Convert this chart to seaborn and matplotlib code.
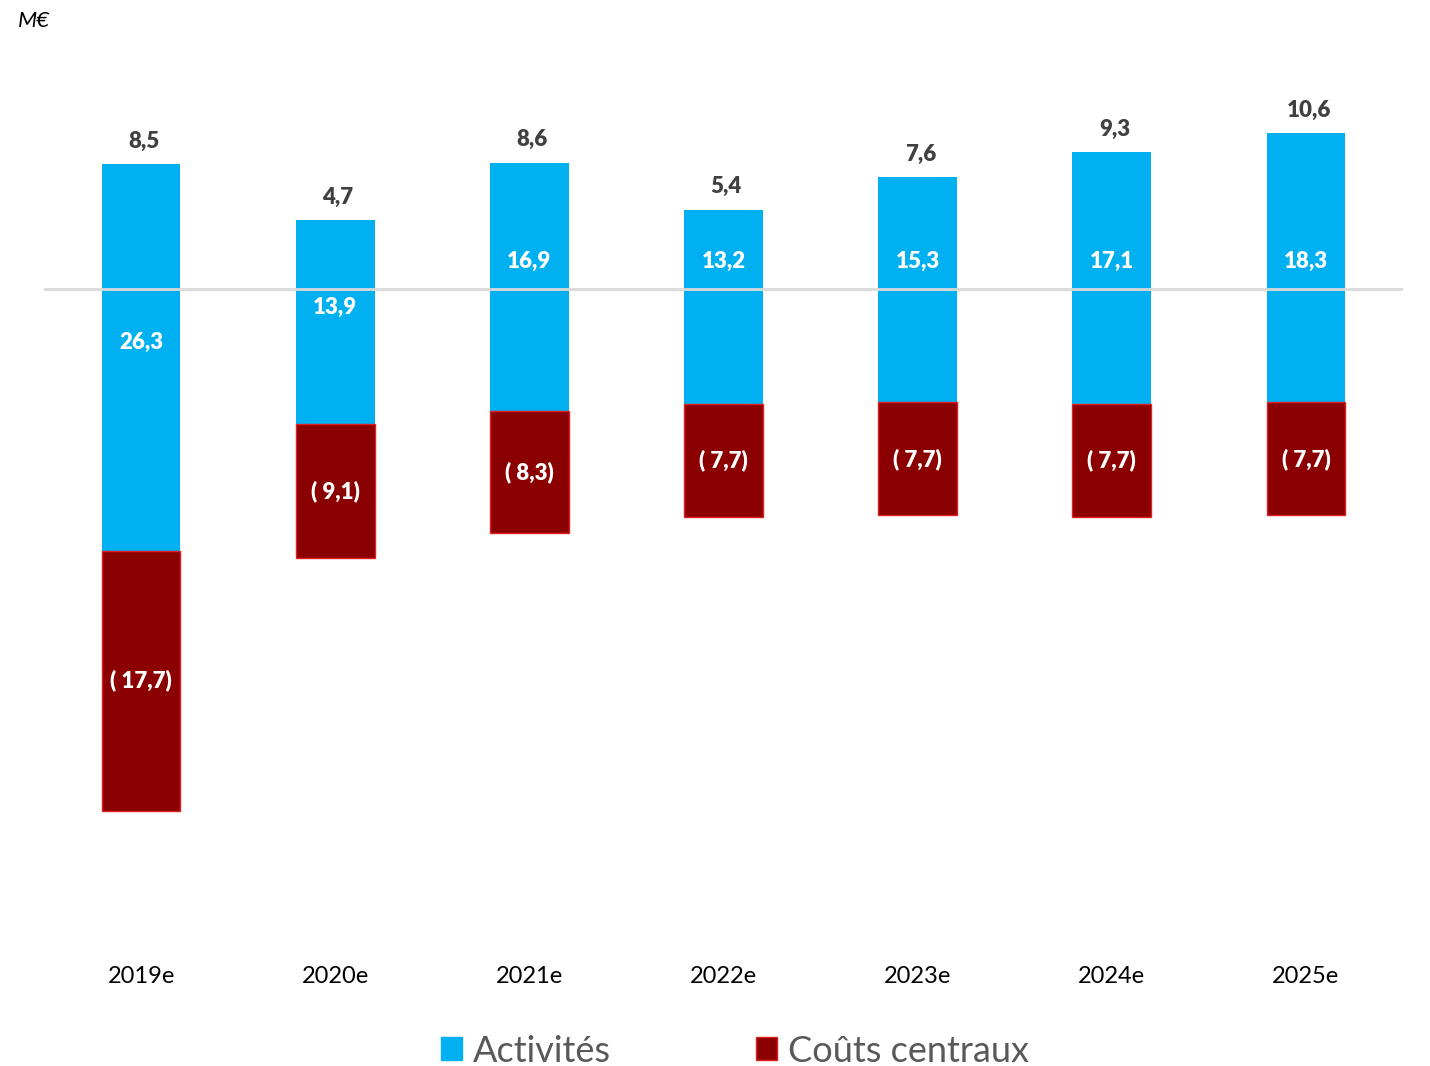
import matplotlib
matplotlib.use("Agg")
import matplotlib.pyplot as plt
from matplotlib.patches import Patch
import seaborn as sns
import pandas as pd
import numpy as np

# Data (M€)
years = ["2019e", "2020e", "2021e", "2022e", "2023e", "2024e", "2025e"]
totals = [8.5, 4.7, 8.6, 5.4, 7.6, 9.3, 10.6]
activites = [26.3, 13.9, 16.9, 13.2, 15.3, 17.1, 18.3]
couts_centraux = [17.7, 9.1, 8.3, 7.7, 7.7, 7.7, 7.7]

BLUE = "#00B0F0"
RED = "#8B0000"
RED_EDGE = "#E01F1F"

sns.set_theme(style="white")
plt.rcParams["font.family"] = ["Lato", "DejaVu Sans"]

tot = np.array(totals)
act = np.array(activites)
cost = np.array(couts_centraux)
blue_bottom = tot - act            # activities segment spans [total - act, total]
red_bottom = blue_bottom - cost    # central costs hang below it

df = pd.DataFrame({
    "annee": years,
    "activites": act,
    "couts": cost,
    "blue_bottom": blue_bottom,
    "red_bottom": red_bottom,
})

fig = plt.figure(figsize=(14.3, 10.66), dpi=100)
ax = fig.add_axes([44 / 1430, 1 - 940 / 1066, 1359 / 1430, 880 / 1066])

W = 0.405
# floating segments: each bar starts at its own bottom
sns.barplot(data=df, x="annee", y="activites", order=years, color=BLUE,
            saturation=1, width=W, errorbar=None, linewidth=0,
            bottom=df["blue_bottom"].to_numpy(), ax=ax, zorder=3)
sns.barplot(data=df, x="annee", y="couts", order=years, color=RED,
            saturation=1, width=W, errorbar=None, edgecolor=RED_EDGE,
            linewidth=1.0, bottom=df["red_bottom"].to_numpy(), ax=ax, zorder=3)

ax.axhline(0, color="#D9D9D9", lw=2, zorder=6)

ax.set_xlim(-0.5, len(years) - 0.5)
ax.set_ylim(-(940 - 289) / 14.7, (289 - 60) / 14.7)


def fr(v):
    return f"{v:.1f}".replace(".", ",")


for i in range(len(years)):
    ax.annotate(fr(tot[i]), (i, tot[i]), xytext=(2, 9), textcoords="offset points",
                ha="center", va="bottom", fontsize=16, fontweight="heavy",
                color="#404040", zorder=7)
    mid = (tot[i] + blue_bottom[i]) / 2
    y_act = mid + 1.0 if mid < -2 else 1.9   # keep the label clear of the baseline
    ax.text(i, y_act, fr(act[i]), ha="center", va="center", fontsize=16,
            fontweight="heavy", color="white", zorder=7)
    ax.text(i, (blue_bottom[i] + red_bottom[i]) / 2, f"( {fr(cost[i])})",
            ha="center", va="center", fontsize=16, fontweight="heavy",
            color="white", zorder=7)

sns.despine(ax=ax, left=True, bottom=True)
ax.set_xlabel("")
ax.set_ylabel("")
ax.set_yticks([])
ax.tick_params(axis="x", length=0, pad=19, labelsize=17, labelcolor="black")

fig.text(18 / 1430, 1 - 21 / 1066, "M€", fontsize=16, fontstyle="italic",
         ha="left", va="center", color="black")

handles = [Patch(facecolor=BLUE, edgecolor=BLUE, label="Activités"),
           Patch(facecolor=RED, edgecolor=RED_EDGE, label="Coûts centraux")]
fig.legend(handles=handles, loc="center", bbox_to_anchor=(735 / 1430, 1 - 1051 / 1066),
           ncol=2, frameon=False, fontsize=26, handlelength=0.6, handleheight=0.6,
           handletextpad=0.3, columnspacing=4.0, labelcolor="#595959",
           borderpad=0, borderaxespad=0)

fig.savefig("out.png", dpi=100)
